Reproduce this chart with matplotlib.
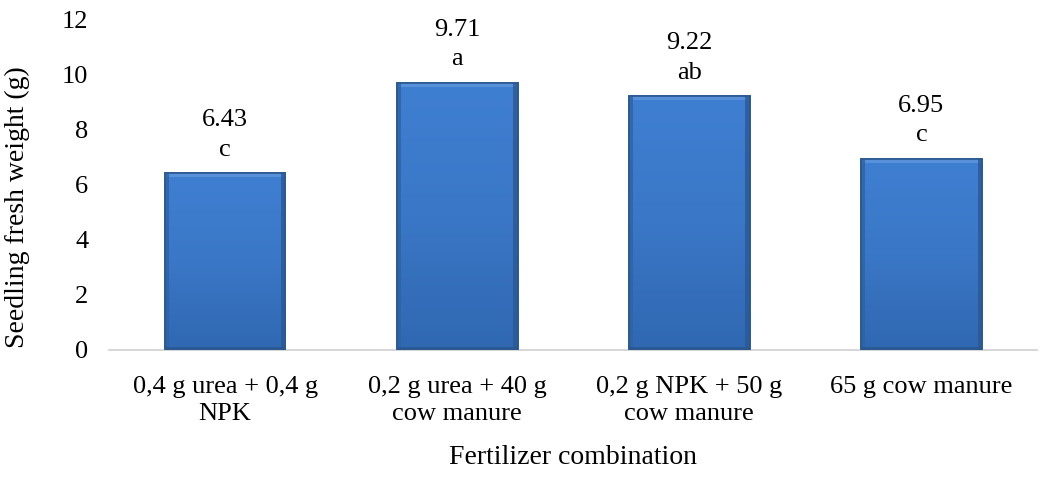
import numpy as np
import matplotlib.pyplot as plt
from matplotlib.colors import LinearSegmentedColormap

categories = ['0,4 g urea + 0,4 g\nNPK', '0,2 g urea + 40 g\ncow manure',
              '0,2 g NPK + 50 g\ncow manure', '65 g cow manure']
weights = [6.43, 9.71, 9.22, 6.95]
letters = ['c', 'a', 'ab', 'c']

plt.rcParams['font.family'] = ['Liberation Serif', 'DejaVu Serif']

fig = plt.figure(figsize=(10.49, 4.82), dpi=100)
ax = fig.add_axes([0.104, 0.274, 0.885, 0.685])

x = np.arange(len(categories))
bars = ax.bar(x, weights, width=0.52, color='#3b78c8', edgecolor='#2a5890', linewidth=1.2, zorder=2)

# soft vertical shading, lighter near the top
cmap = LinearSegmentedColormap.from_list('blu', ['#3068b2', '#3a77c6', '#3f7fd2'])
grad = np.linspace(0, 1, 256).reshape(-1, 1)
for b in bars:
    x0, w, h = b.get_x(), b.get_width(), b.get_height()
    im = ax.imshow(grad, extent=[x0, x0 + w, 0, h], aspect='auto', cmap=cmap,
                   origin='lower', zorder=3)
    im.set_clip_path(b)
    # bevel edges
    ax.fill_between([x0, x0 + w], h - 0.14, h, color='#5f95dc', alpha=0.8, zorder=4, lw=0)
    ax.fill_between([x0, x0 + w * 0.035], 0, h, color='#2f62a4', alpha=0.8, zorder=4, lw=0)
    ax.fill_between([x0 + w * 0.965, x0 + w], 0, h, color='#2a5896', alpha=0.8, zorder=4, lw=0)
    ax.fill_between([x0, x0 + w], 0, 0.12, color='#2a5690', alpha=0.8, zorder=4, lw=0)
    ax.bar(b.get_x() + w / 2, h, width=w, fill=False, edgecolor='#2a5890', linewidth=1.2, zorder=5)

for xi, v, l in zip(x, weights, letters):
    ax.annotate(f'{v:.2f}\n{l}', (xi, v), xytext=(0, 9), textcoords='offset points',
                ha='center', va='bottom', fontsize=19, linespacing=1.45)

ax.set_xlim(-0.5, len(categories) - 0.5)
ax.set_ylim(0, 12)
ax.set_yticks(range(0, 13, 2))
ax.set_xticks(x)
ax.set_xticklabels(categories, fontsize=19, linespacing=1.25)
ax.tick_params(axis='both', length=0, labelsize=19)
ax.tick_params(axis='x', pad=19)
ax.tick_params(axis='y', pad=15)
for s in ['top', 'right', 'left']:
    ax.spines[s].set_visible(False)
ax.spines['bottom'].set_color('#d0d0d0')
ax.spines['bottom'].set_linewidth(1.2)

ax.set_xlabel('Fertilizer combination', fontsize=20, labelpad=14.5)
ax.set_ylabel('Seedling fresh weight (g)', fontsize=20)
ax.yaxis.set_label_coords(-0.085, 0.433)

fig.savefig('out.png', dpi=100)
